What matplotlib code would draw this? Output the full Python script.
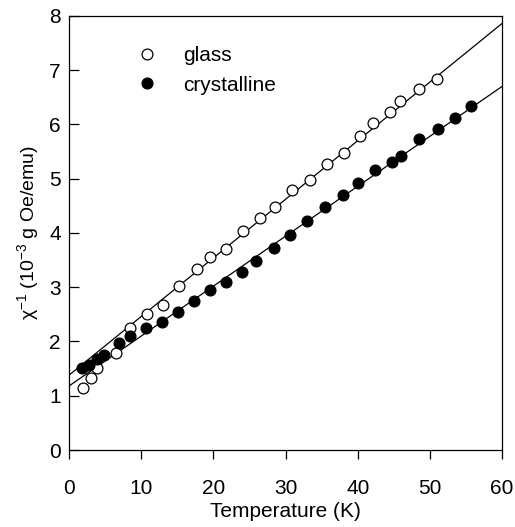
import numpy as np
import matplotlib
matplotlib.use("Agg")
import matplotlib.pyplot as plt

plt.rcParams['font.family'] = ['Liberation Sans', 'DejaVu Sans']
plt.rcParams['mathtext.fontset'] = 'custom'
plt.rcParams['mathtext.rm'] = 'Liberation Sans'

# Data
glass_T = [1.9, 3.0, 3.9, 6.5, 8.5, 10.8, 13.0, 15.3, 17.7, 19.6, 21.8, 24.1,
           26.5, 28.5, 30.9, 33.4, 35.8, 38.1, 40.3, 42.1, 44.5, 45.8, 48.5, 51.0]
glass_chi = [1.15, 1.33, 1.51, 1.79, 2.25, 2.50, 2.68, 3.03, 3.34, 3.56, 3.70, 4.04,
             4.27, 4.47, 4.79, 4.98, 5.27, 5.48, 5.79, 6.03, 6.23, 6.43, 6.65, 6.83]

cryst_T = [1.8, 2.7, 3.9, 4.9, 6.9, 8.5, 10.7, 12.9, 15.1, 17.3, 19.5, 21.7,
           24.0, 25.9, 28.4, 30.6, 33.0, 35.5, 37.9, 40.1, 42.4, 44.7, 46.0,
           48.5, 51.1, 53.5, 55.7]
cryst_chi = [1.51, 1.57, 1.68, 1.76, 1.98, 2.11, 2.25, 2.36, 2.54, 2.74, 2.94, 3.09,
             3.28, 3.48, 3.73, 3.96, 4.22, 4.47, 4.69, 4.92, 5.16, 5.31, 5.42,
             5.73, 5.92, 6.11, 6.33]

# Linear fits drawn in the reference: (intercept, slope)
glass_fit = (1.38, 0.108)
cryst_fit = (1.18, 0.092)

x_ticks = [0, 10, 20, 30, 40, 50, 60]
y_ticks = [0, 1, 2, 3, 4, 5, 6, 7, 8]

fig = plt.figure(figsize=(5.15, 5.27), dpi=100)
ax = fig.add_axes([0.134, 0.146, 0.841, 0.824])

xl = np.array([0, 60])
ax.plot(xl, glass_fit[0] + glass_fit[1] * xl, color='black', lw=0.9, zorder=1)
ax.plot(xl, cryst_fit[0] + cryst_fit[1] * xl, color='black', lw=0.9, zorder=1)

ax.plot(glass_T, glass_chi, 'o', ms=7.8, mfc='white', mec='black', mew=0.9,
        ls='none', label='glass', zorder=3)
ax.plot(cryst_T, cryst_chi, 'o', ms=7.8, mfc='black', mec='black', mew=0.9,
        ls='none', label='crystalline', zorder=3)

ax.set_xlim(0, 60)
ax.set_ylim(0, 8)
ax.set_xticks(x_ticks)
ax.set_yticks(y_ticks)
ax.tick_params(axis='x', direction='out', length=6.5, width=0.9, labelsize=15, pad=14)
ax.tick_params(axis='y', direction='in', length=7, width=0.9, labelsize=15, pad=6)
for s in ax.spines.values():
    s.set_linewidth(0.9)

ax.set_xlabel('Temperature (K)', fontsize=15, labelpad=3)
ax.set_ylabel('χ$^{-1}$ (10$^{-3}$ g Oe/emu)', fontsize=14, labelpad=5)

leg = ax.legend(loc='upper left', bbox_to_anchor=(0.157, 0.93), frameon=False,
                fontsize=15, handletextpad=1.2, labelspacing=0.5,
                handlelength=1.0, borderaxespad=0, borderpad=0)

fig.savefig('out.png', dpi=100)
